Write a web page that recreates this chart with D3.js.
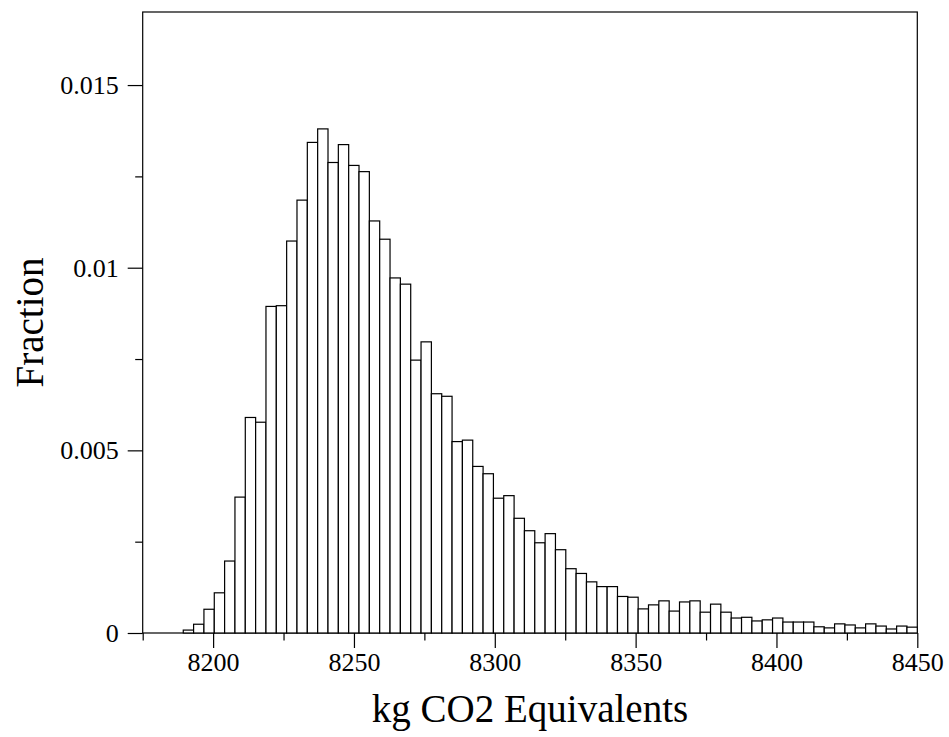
<!DOCTYPE html>
<html>
<head>
<meta charset="utf-8">
<script src="https://cdn.jsdelivr.net/npm/d3@7"></script>
<style>
	body { margin: 0; background: #fff; }
	text { font-family: "Liberation Serif", "Times New Roman", serif; fill: #000; }
</style>
</head>
<body>
<svg id="chart" width="949" height="737"></svg>
<script>
// histogram: 71 equal bins from binStart to binEnd
var binStart = 8189.4;
var binEnd = 8450;
var fractions = [
	0.00008, 0.00024, 0.00065, 0.0011, 0.00197, 0.00372, 0.0059, 0.00577, 0.00894, 0.00896,
	0.01073, 0.01185, 0.01343, 0.0138, 0.01288, 0.01337, 0.0128, 0.01263, 0.01128, 0.01078,
	0.00972, 0.00955, 0.00747, 0.00797, 0.00655, 0.00648, 0.00524, 0.00528, 0.00456, 0.00436,
	0.00369, 0.00376, 0.00314, 0.0028, 0.00247, 0.00272, 0.00228, 0.00176, 0.00163, 0.0014,
	0.00127, 0.00127, 0.001, 0.00098, 0.00066, 0.00077, 0.00088, 0.0006, 0.00085, 0.00088,
	0.00057, 0.00079, 0.00057, 0.00041, 0.00043, 0.00033, 0.00036, 0.00041, 0.0003, 0.0003,
	0.0003, 0.00017, 0.00014, 0.00025, 0.00022, 0.00014, 0.00025, 0.00019, 0.00011, 0.00019,
	0.00016
];
var xDomain = [8175, 8450];
var yDomain = [0, 0.017];
var xTicks = [8200, 8250, 8300, 8350, 8400, 8450];
var xMinorTicks = [8175, 8225, 8275, 8325, 8375, 8425];
var yTicks = [0, 0.005, 0.01, 0.015];
var yTickLabels = ["0", "0.005", "0.01", "0.015"];
var yMinorTicks = [0.0025, 0.0075, 0.0125];
var xTitle = "kg CO2 Equivalents";
var yTitle = "Fraction";

// plot box (window.top is reserved, so use a box object)
var box = {left: 142.7, right: 917.3, top: 12, bottom: 633};
var svg = d3.select("#chart");

var x = d3.scaleLinear().domain(xDomain).range([box.left, box.right]);
var y = d3.scaleLinear().domain(yDomain).range([box.bottom, box.top]);

var binWidth = (binEnd - binStart) / fractions.length;
var bins = fractions.map(function(f, i) {
	return {x0: binStart + i * binWidth, x1: binStart + (i + 1) * binWidth, value: f};
});

// frame
svg.append("rect")
	.attr("x", box.left).attr("y", box.top)
	.attr("width", box.right - box.left).attr("height", box.bottom - box.top)
	.attr("fill", "none").attr("stroke", "#000").attr("stroke-width", 1.2);

svg.append("g").selectAll("rect")
	.data(bins)
	.enter().append("rect")
	.attr("x", function(d) { return x(d.x0); })
	.attr("y", function(d) { return y(d.value); })
	.attr("width", function(d) { return x(d.x1) - x(d.x0); })
	.attr("height", function(d) { return y(0) - y(d.value); })
	.attr("fill", "#fff")
	.attr("stroke", "#000")
	.attr("stroke-width", 1.2);

// x axis
svg.append("g").attr("transform", "translate(0," + box.bottom + ")")
	.call(d3.axisBottom(x).tickValues(xTicks).tickSize(15).tickSizeOuter(0).tickPadding(5)
		.tickFormat(d3.format("d")));
svg.append("g").attr("transform", "translate(0," + box.bottom + ")")
	.call(d3.axisBottom(x).tickValues(xMinorTicks).tickSize(7.5).tickSizeOuter(0).tickFormat(""));

// y axis
svg.append("g").attr("transform", "translate(" + box.left + ",0)")
	.call(d3.axisLeft(y).tickValues(yTicks).tickSize(15).tickSizeOuter(0).tickPadding(9)
		.tickFormat(function(d, i) { return yTickLabels[i]; }));
svg.append("g").attr("transform", "translate(" + box.left + ",0)")
	.call(d3.axisLeft(y).tickValues(yMinorTicks).tickSize(7.5).tickSizeOuter(0).tickFormat(""));

svg.selectAll(".domain").remove();
svg.selectAll(".tick line").attr("stroke", "#000").attr("stroke-width", 1.2);
svg.selectAll(".tick text")
	.style("font-family", '"Liberation Serif", "Times New Roman", serif')
	.style("font-size", "26px")
	.attr("fill", "#000");

// titles
svg.append("text")
	.attr("x", (box.left + box.right) / 2).attr("y", 722)
	.attr("text-anchor", "middle")
	.style("font-size", "39px")
	.text(xTitle);

svg.append("text")
	.attr("transform", "translate(43," + ((box.top + box.bottom) / 2) + ") rotate(-90)")
	.attr("text-anchor", "middle")
	.style("font-size", "39px")
	.text(yTitle);
</script>
</body>
</html>
